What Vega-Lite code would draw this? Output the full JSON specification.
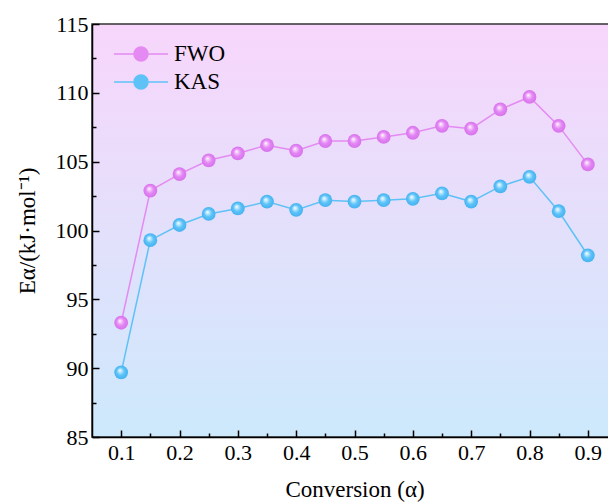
{
  "$schema": "https://vega.github.io/schema/vega-lite/v6.json",
  "autosize": "none",
  "padding": {"left": 92, "top": 24, "right": 0, "bottom": 65},
  "width": 525,
  "height": 413,
  "background": "white",
  "config": {
    "view": {
      "stroke": "#333333",
      "strokeWidth": 1.5,
      "fill": {
        "gradient": "linear", "x1": 0, "y1": 0, "x2": 0, "y2": 1,
        "stops": [
          {"offset": 0, "color": "#f8d6fc"},
          {"offset": 0.5, "color": "#e3e0fb"},
          {"offset": 1, "color": "#cde9fc"}
        ]
      }
    },
    "font": "Liberation Serif"
  },
  "data": {
    "values": [
      {"a": 0.10, "method": "FWO", "E": 93.3},
      {"a": 0.15, "method": "FWO", "E": 102.9},
      {"a": 0.20, "method": "FWO", "E": 104.1},
      {"a": 0.25, "method": "FWO", "E": 105.1},
      {"a": 0.30, "method": "FWO", "E": 105.6},
      {"a": 0.35, "method": "FWO", "E": 106.2},
      {"a": 0.40, "method": "FWO", "E": 105.8},
      {"a": 0.45, "method": "FWO", "E": 106.5},
      {"a": 0.50, "method": "FWO", "E": 106.5},
      {"a": 0.55, "method": "FWO", "E": 106.8},
      {"a": 0.60, "method": "FWO", "E": 107.1},
      {"a": 0.65, "method": "FWO", "E": 107.6},
      {"a": 0.70, "method": "FWO", "E": 107.4},
      {"a": 0.75, "method": "FWO", "E": 108.8},
      {"a": 0.80, "method": "FWO", "E": 109.7},
      {"a": 0.85, "method": "FWO", "E": 107.6},
      {"a": 0.90, "method": "FWO", "E": 104.8},
      {"a": 0.10, "method": "KAS", "E": 89.7},
      {"a": 0.15, "method": "KAS", "E": 99.3},
      {"a": 0.20, "method": "KAS", "E": 100.4},
      {"a": 0.25, "method": "KAS", "E": 101.2},
      {"a": 0.30, "method": "KAS", "E": 101.6},
      {"a": 0.35, "method": "KAS", "E": 102.1},
      {"a": 0.40, "method": "KAS", "E": 101.5},
      {"a": 0.45, "method": "KAS", "E": 102.2},
      {"a": 0.50, "method": "KAS", "E": 102.1},
      {"a": 0.55, "method": "KAS", "E": 102.2},
      {"a": 0.60, "method": "KAS", "E": 102.3},
      {"a": 0.65, "method": "KAS", "E": 102.7},
      {"a": 0.70, "method": "KAS", "E": 102.1},
      {"a": 0.75, "method": "KAS", "E": 103.2},
      {"a": 0.80, "method": "KAS", "E": 103.9},
      {"a": 0.85, "method": "KAS", "E": 101.4},
      {"a": 0.90, "method": "KAS", "E": 98.2}
    ]
  },
  "encoding": {
    "x": {
      "field": "a", "type": "quantitative",
      "scale": {"domain": [0.05, 0.95], "nice": false, "zero": false},
      "axis": {
        "title": "Conversion (α)",
        "values": [0.1, 0.15, 0.2, 0.25, 0.3, 0.35, 0.4, 0.45, 0.5, 0.55, 0.6, 0.65, 0.7, 0.75, 0.8, 0.85, 0.9],
        "labelExpr": "abs(datum.value*10 - round(datum.value*10)) < 0.01 ? format(datum.value, '.1f') : ''",
        "grid": false,
        "domainColor": "black", "domainWidth": 1.5,
        "tickColor": "black", "tickWidth": 1.5,
        "tickSize": {"condition": {"test": "abs(datum.value*10 - round(datum.value*10)) < 0.01", "value": -7}, "value": -4},
        "labelPadding": 12,
        "labelFont": "Liberation Serif", "labelFontSize": 22, "labelColor": "black",
        "titleFont": "Liberation Serif", "titleFontSize": 23, "titleFontWeight": "normal", "titleColor": "black",
        "titlePadding": 15
      }
    },
    "y": {
      "field": "E", "type": "quantitative",
      "scale": {"domain": [85, 115], "nice": false, "zero": false},
      "axis": {
        "title": "Eα/(kJ·mol⁻¹)",
        "values": [85, 87.5, 90, 92.5, 95, 97.5, 100, 102.5, 105, 107.5, 110, 112.5, 115],
        "labelExpr": "datum.value % 5 == 0 ? format(datum.value, 'd') : ''",
        "grid": false,
        "domainColor": "black", "domainWidth": 1.5,
        "tickColor": "black", "tickWidth": 1.5,
        "tickSize": {"condition": {"test": "datum.value % 5 == 0", "value": -7}, "value": -4},
        "labelPadding": 11,
        "labelFont": "Liberation Serif", "labelFontSize": 22, "labelColor": "black",
        "titleFont": "Liberation Serif", "titleFontSize": 23, "titleFontWeight": "normal", "titleColor": "black",
        "titlePadding": 16
      }
    }
  },
  "layer": [
    {
      "mark": {"type": "line", "strokeWidth": 1.5},
      "encoding": {
        "color": {
          "field": "method", "type": "nominal",
          "scale": {"domain": ["FWO", "KAS"], "range": ["#e48af2", "#5ec2f7"]},
          "legend": {
            "title": null,
            "orient": "none", "legendX": 33, "legendY": 14,
            "symbolType": "M-1.8,0L1.8,0M0.467,0A0.467,0.467,0,1,1,-0.467,0A0.467,0.467,0,1,1,0.467,0Z",
            "symbolSize": 900,
            "symbolStrokeWidth": 1.5,
            "labelFont": "Liberation Serif", "labelFontSize": 23, "labelColor": "black",
            "labelOffset": 17,
            "rowPadding": 0,
            "encode": {
              "symbols": {"update": {"fill": {"scale": "color", "field": "value"}, "fillOpacity": {"value": 1}}}
            }
          }
        }
      }
    },
    {
      "transform": [{"filter": "datum.method == 'FWO'"}],
      "mark": {
        "type": "point", "filled": true, "size": 190, "opacity": 1,
        "fill": {
          "gradient": "radial", "x1": 0.4, "y1": 0.35, "r1": 0, "x2": 0.5, "y2": 0.5, "r2": 0.5,
          "stops": [
            {"offset": 0, "color": "#ffffff"},
            {"offset": 0.25, "color": "#f3c4fa"},
            {"offset": 0.55, "color": "#e386f4"},
            {"offset": 1, "color": "#d772ec"}
          ]
        }
      }
    },
    {
      "transform": [{"filter": "datum.method == 'KAS'"}],
      "mark": {
        "type": "point", "filled": true, "size": 190, "opacity": 1,
        "fill": {
          "gradient": "radial", "x1": 0.4, "y1": 0.35, "r1": 0, "x2": 0.5, "y2": 0.5, "r2": 0.5,
          "stops": [
            {"offset": 0, "color": "#ffffff"},
            {"offset": 0.25, "color": "#b8e6fd"},
            {"offset": 0.55, "color": "#5ec3f8"},
            {"offset": 1, "color": "#45b2f0"}
          ]
        }
      }
    }
  ]
}
